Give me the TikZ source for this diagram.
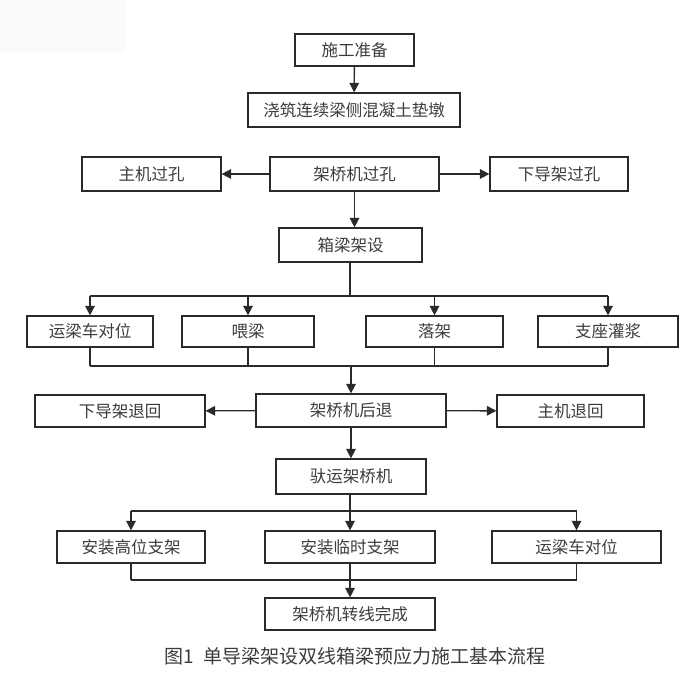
\documentclass[tikz,border=0pt]{standalone}
\usepackage{fontspec}
\setmainfont{Noto Sans CJK SC}
\usetikzlibrary{arrows.meta}
\definecolor{linegray}{HTML}{2A2A2A}
\definecolor{textgray}{HTML}{3C3C3C}
\tikzset{
  box/.style={draw=linegray,line width=1.2pt,minimum height=32pt,inner sep=0pt,text=textgray,font=\fontsize{16.5}{18}\selectfont},
  link/.style={draw=linegray,line width=1.4pt},
  flow/.style={link,-{Triangle[width=9.5pt,length=9.5pt]}}
}
\begin{document}
\begin{tikzpicture}[x=1pt,y=-1pt]

\useasboundingbox (0,0) rectangle (700,682);

\fill[black!2] (0,0) rectangle (126,52);

\node[box,minimum width=119pt] (prep) at (354.5,50) {施工准备};

\node[box,minimum width=212pt,minimum height=34pt] (pier) at (354,110) {浇筑连续梁侧混凝土垫墩};

\node[box,minimum width=169pt,minimum height=34pt] (hole) at (354.5,174) {架桥机过孔};

\node[box,minimum width=139pt,minimum height=34pt] (hosthole) at (151.5,174) {主机过孔};

\node[box,minimum width=138pt,minimum height=34pt] (guidehole) at (559,174) {下导架过孔};

\node[box,minimum width=143pt,minimum height=34pt] (erect) at (350.5,245) {箱梁架设};

\node[box,minimum width=126pt,minimum height=31pt] (car) at (90,331.5) {运梁车对位};

\node[box,minimum width=132pt,minimum height=31pt] (feed) at (248,331.5) {喂梁};

\node[box,minimum width=137pt,minimum height=31pt] (drop) at (434.5,331.5) {落架};

\node[box,minimum width=140pt,minimum height=31pt] (grout) at (608,331.5) {支座灌浆};

\node[box,minimum width=190pt,minimum height=33pt] (back) at (351,410.5) {架桥机后退};

\node[box,minimum width=170pt] (guideback) at (120,411) {下导架退回};

\node[box,minimum width=147pt] (hostback) at (570.5,411) {主机退回};

\node[box,minimum width=150pt,minimum height=35pt] (carry) at (351,476.5) {驮运架桥机};

\node[box,minimum width=148pt] (high) at (131,547) {安装高位支架};

\node[box,minimum width=170pt] (temp) at (350,547) {安装临时支架};

\node[box,minimum width=169pt] (cartwo) at (576.5,547) {运梁车对位};

\node[box,minimum width=170pt] (done) at (350,614) {架桥机转线完成};

\node[text=textgray,font=\fontsize{19}{21}\selectfont] (caption) at (355,656) {图1\hspace{0.5em}单导梁架设双线箱梁预应力施工基本流程};

\coordinate (busa) at (350,296);

\coordinate (busb) at (351,366);

\coordinate (busc) at (350,511);

\coordinate (busd) at (350,580);

\draw[flow] (prep) -- (pier);

\draw[flow] (hole) -- (hosthole);

\draw[flow] (hole) -- (guidehole);

\draw[flow] (hole.south) -- (hole.south |- erect.north);

% box girder erection
\draw[link] (erect.south -| busa) -- (busa);

\draw[link] (car.north |- busa) -- (grout.north |- busa);

\foreach \n in {car,feed,drop,grout}
  \draw[flow] (\n.north |- busa) -- (\n.north);

\foreach \n in {car,feed,drop,grout}
  \draw[link] (\n.south) -- (\n.south |- busb);

\draw[link] (car.south |- busb) -- (grout.south |- busb);

\draw[flow] (busb) -- (back.north -| busb);

\draw[flow] (back) -- (guideback);

\draw[flow] (back) -- (hostback);

\draw[flow] (back) -- (carry);

% line change
\draw[link] (carry.south -| busc) -- (busc);

\draw[link] (high.north |- busc) -- (cartwo.north |- busc);

\foreach \n in {high,temp,cartwo}
  \draw[flow] (\n.north |- busc) -- (\n.north);

\foreach \n in {high,temp,cartwo}
  \draw[link] (\n.south) -- (\n.south |- busd);

\draw[link] (high.south |- busd) -- (cartwo.south |- busd);

\draw[flow] (busd) -- (done.north -| busd);

\end{tikzpicture}
\end{document}
